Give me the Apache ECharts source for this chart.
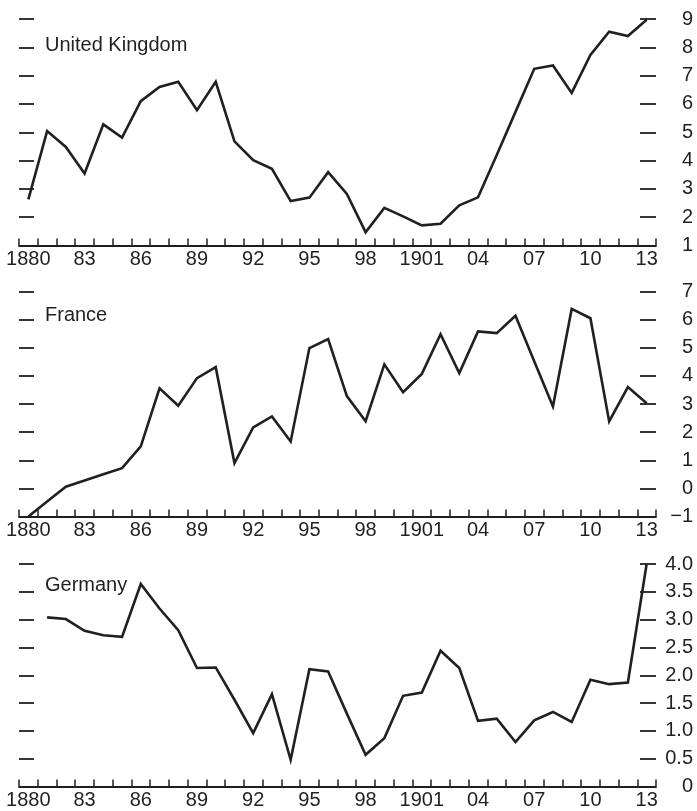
<!DOCTYPE html>
<html>
<head>
<meta charset="utf-8">
<title>UK, France, Germany 1880-1913</title>
<script src="https://cdn.jsdelivr.net/npm/echarts@6/dist/echarts.min.js"></script>
<style>
  html, body { margin: 0; padding: 0; background: #fff; }
  #chart { width: 697px; height: 811px; }
</style>
</head>
<body>
<div id="chart"></div>
<script>
"use strict";

// years on the category axis
const years = [
  1880, 1881, 1882, 1883, 1884, 1885, 1886, 1887, 1888, 1889,
  1890, 1891, 1892, 1893, 1894, 1895, 1896, 1897, 1898, 1899,
  1900, 1901, 1902, 1903, 1904, 1905, 1906, 1907, 1908, 1909,
  1910, 1911, 1912, 1913
];

// values
const ukValues = [
  2.63, 5.04, 4.48, 3.54, 5.28, 4.81, 6.10, 6.60, 6.78, 5.78,
  6.78, 4.68, 4.01, 3.71, 2.57, 2.69, 3.59, 2.82, 1.47, 2.33,
  2.03, 1.71, 1.77, 2.42, 2.70, 4.20, 5.72, 7.24, 7.36, 6.39,
  7.73, 8.55, 8.40, 8.97
];
const franceValues = [
  -1.00, -0.47, 0.06, 0.28, 0.50, 0.72, 1.49, 3.56, 2.94, 3.92,
  4.31, 0.90, 2.17, 2.56, 1.67, 4.99, 5.31, 3.28, 2.39, 4.41,
  3.42, 4.07, 5.48, 4.10, 5.58, 5.52, 6.14, 4.52, 2.91, 6.38,
  6.05, 2.38, 3.60, 3.03
];
const germanyValues = [
  null, 3.04, 3.01, 2.80, 2.72, 2.69, 3.64, 3.20, 2.81, 2.13,
  2.14, 1.56, 0.96, 1.66, 0.48, 2.11, 2.07, 1.31, 0.57, 0.87,
  1.63, 1.69, 2.44, 2.13, 1.18, 1.22, 0.80, 1.19, 1.34, 1.16,
  1.92, 1.84, 1.87, 4.00
];

const panelNames = ["United Kingdom", "France", "Germany"];
const panelSeries = [ukValues, franceValues, germanyValues];
// y scale per panel: [min, max, step]
const panelScales = [[1, 9, 1], [-1, 7, 1], [0, 4, 0.5]];

const INK = "#231f20";
const FONT = "'Liberation Sans', Arial, Helvetica, sans-serif";

// grid layout (px)
const panelTop = [19, 291.5, 564];
const panelHeight = [226.5, 225, 222.5];
const titleY = [46, 316, 586];

function yearLabel(v) {
  const y = Number(v);
  if (y === 1880 || y === 1901) return String(y);
  return String(y % 100).padStart(2, "0");
}

function yLabel(panel, v) {
  if (panel === 2) return v === 0 ? "0" : v.toFixed(1);
  return v < 0 ? "\u2212" + Math.abs(v) : String(v);
}

const grids = [], xAxes = [], yAxes = [], series = [], graphics = [];

panelNames.forEach((name, i) => {
  const [mn, mx, step] = panelScales[i];

  grids.push({ left: 19, right: 41, top: panelTop[i], height: panelHeight[i] });

  xAxes.push({
    type: "category", gridIndex: i, data: years.map(String),
    boundaryGap: true,
    axisLine: { show: true, onZero: false, lineStyle: { color: INK, width: 1.8 } },
    axisTick: { show: true, inside: true, length: 7, interval: 0, alignWithLabel: false,
                lineStyle: { color: INK, width: 1.5 } },
    axisLabel: {
      interval: 2, margin: 4, color: INK, fontSize: 20, fontFamily: FONT,
      formatter: yearLabel
    },
    splitLine: { show: false }
  });

  // left side: dashes only
  yAxes.push({
    type: "value", gridIndex: i, position: "left",
    min: mn, max: mx, interval: step,
    axisLine: { show: false },
    axisTick: { show: true, inside: true, length: 15, lineStyle: { color: INK, width: 1.8 } },
    axisLabel: { show: false },
    splitLine: { show: false }
  });

  // right side: dashes + labels
  yAxes.push({
    type: "value", gridIndex: i, position: "right",
    min: mn, max: mx, interval: step,
    axisLine: { show: false },
    axisTick: { show: true, inside: true, length: 16, lineStyle: { color: INK, width: 1.8 } },
    axisLabel: {
      show: true, align: "right", margin: 37, color: INK, fontSize: 20, fontFamily: FONT,
      formatter: v => yLabel(i, v)
    },
    splitLine: { show: false }
  });

  series.push({
    name: name, type: "line",
    xAxisIndex: i, yAxisIndex: i * 2 + 1,
    data: panelSeries[i],
    symbol: "none", connectNulls: false,
    lineStyle: { color: INK, width: 2.6, join: "miter" },
    clip: false,
    silent: true
  });

  graphics.push({
    type: "text", left: 45, top: titleY[i] - 11,
    style: { text: name, fill: INK, font: "20px " + FONT }
  });
});

const chart = echarts.init(document.getElementById("chart"), null, { renderer: "canvas" });
chart.setOption({
  animation: false,
  backgroundColor: "#fff",
  grid: grids,
  xAxis: xAxes,
  yAxis: yAxes,
  series: series,
  graphic: graphics
});
window.addEventListener("resize", () => chart.resize());
</script>
</body>
</html>
